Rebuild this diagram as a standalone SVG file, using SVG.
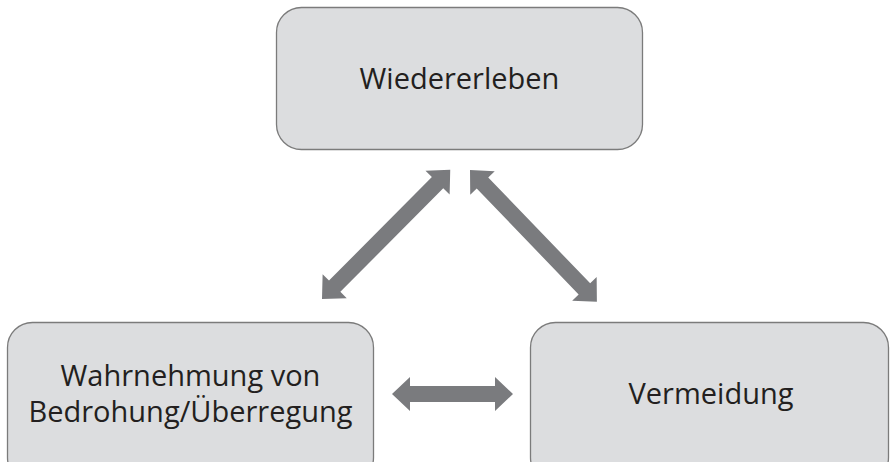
<svg xmlns="http://www.w3.org/2000/svg" width="895" height="462" viewBox="0 0 895 462">
<style>
.box{fill:#dcdddf;stroke:#7b7b7b;stroke-width:1.3}
.lbl{font-family:"Open Sans","Noto Sans","Liberation Sans",sans-serif;font-size:29px;fill:#231f20;text-anchor:middle}
.arr{fill:#7a7b7e}
</style>
<rect width="895" height="462" fill="#ffffff"/>
<g id="wiedererleben">
<rect class="box" x="276.5" y="7.5" width="366" height="142" rx="25"/>
<text class="lbl" x="459.5" y="89">Wiedererleben</text>
</g>
<g id="wahrnehmung">
<rect class="box" x="7.5" y="322.5" width="366" height="160" rx="25"/>
<text class="lbl" x="190.5" y="386">Wahrnehmung von</text>
<text class="lbl" x="190.5" y="422">Bedrohung/Überregung</text>
</g>
<g id="vermeidung">
<rect class="box" x="530.5" y="322.5" width="358" height="160" rx="25"/>
<text class="lbl" x="711" y="404">Vermeidung</text>
</g>
<g id="connectors">
<path class="arr" transform="translate(322,299) rotate(-45.2)" d="M0,0 L18,-17 L18,-8 L164,-8 L164,-17 L182,0 L164,17 L164,8 L18,8 L18,17 Z"/>
<path class="arr" transform="translate(470,170) rotate(46.1)" d="M0,0 L18,-17 L18,-8 L165,-8 L165,-17 L183,0 L165,17 L165,8 L18,8 L18,17 Z"/>
<path class="arr" transform="translate(392,394)" d="M0,0 L18,-17 L18,-8 L103,-8 L103,-17 L121,0 L103,17 L103,8 L18,8 L18,17 Z"/>
</g>
</svg>
